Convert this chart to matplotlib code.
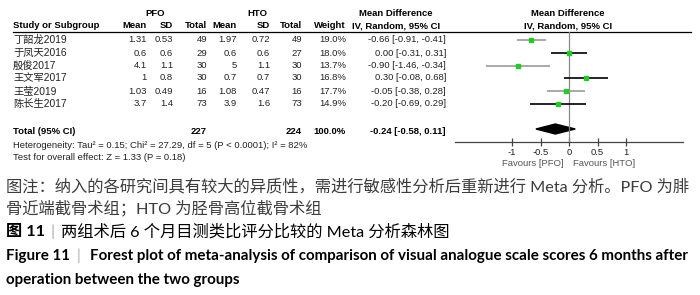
import matplotlib
matplotlib.use("Agg")
import matplotlib.pyplot as plt
from matplotlib.patches import Polygon

studies = ["丁韶龙2019", "于凤天2016", "殷俊2017", "王文军2017", "王莹2019", "陈长生2017"]
pfo_mean = ["1.31", "0.6", "4.1", "1", "1.03", "3.7"]
pfo_sd = ["0.53", "0.6", "1.1", "0.8", "0.49", "1.4"]
pfo_n = [49, 29, 30, 30, 16, 73]
hto_mean = ["1.97", "0.6", "5", "0.7", "1.08", "3.9"]
hto_sd = ["0.72", "0.6", "1.1", "0.7", "0.47", "1.6"]
hto_n = [49, 27, 30, 30, 16, 73]
weight = [19.0, 18.0, 13.7, 16.8, 17.7, 14.9]
md = [-0.66, 0.00, -0.90, 0.30, -0.05, -0.20]
lo = [-0.91, -0.31, -1.46, -0.08, -0.38, -0.69]
hi = [-0.41, 0.31, -0.34, 0.68, 0.28, 0.29]
total_pfo, total_hto = 227, 224
total_md, total_lo, total_hi = -0.24, -0.58, 0.11
ticks = [-1, -0.5, 0, 0.5, 1]
tick_labels = ["-1", "-0.5", "0", "0.5", "1"]

W, H = 700, 295
fig = plt.figure(figsize=(W / 100, H / 100), dpi=100)
ax = fig.add_axes([0, 0, 1, 1])
ax.set_xlim(0, W)
ax.set_ylim(H, 0)
ax.axis("off")
renderer = fig.canvas.get_renderer()

tf = ["Liberation Sans", "Noto Sans CJK SC"]
cf = ["Lato", "Noto Sans CJK SC", "DejaVu Sans"]
fs = 6.8
dark = "#222222"

def t(x, y, s, ha="left", bold=False, color=dark, size=fs, family=tf):
    return ax.text(x, y, s, ha=ha, va="center", fontsize=size, family=family,
                   fontweight="bold" if bold else "normal", color=color)

def fit(txt, width):
    # scale font so the text spans the given pixel width
    w = txt.get_window_extent(renderer).width
    txt.set_fontsize(txt.get_fontsize() * width / w)
    return txt.get_fontsize()

# header
t(155, 13, "PFO", "center", True, "black")
t(257, 13, "HTO", "center", True, "black")
t(396, 13, "Mean Difference", "center", True, "black")
t(568, 13, "Mean Difference", "center", True, "black")
hdr = [(13, "Study or Subgroup", "left"), (147, "Mean", "right"), (173, "SD", "right"),
       (207, "Total", "right"), (237, "Mean", "right"), (270, "SD", "right"),
       (302, "Total", "right"), (346, "Weight", "right"), (396, "IV, Random, 95% CI", "center"),
       (568, "IV, Random, 95% CI", "center")]
for x, s, ha in hdr:
    t(x, 26, s, ha, True, "black")
ax.plot([13, 691], [31.5, 31.5], color="black", lw=0.9)

row_y = [40, 53, 65.5, 78, 91, 104]
for i, y in enumerate(row_y):
    t(13, y, studies[i], size=7.4)
    t(147, y, pfo_mean[i], "right")
    t(173, y, pfo_sd[i], "right")
    t(207, y, str(pfo_n[i]), "right")
    t(237, y, hto_mean[i], "right")
    t(270, y, hto_sd[i], "right")
    t(302, y, str(hto_n[i]), "right")
    t(346, y, f"{weight[i]:.1f}%", "right")
    t(446, y, f"{md[i]:.2f} [{lo[i]:.2f}, {hi[i]:.2f}]", "right")

ty = 131
t(13, ty, "Total (95% CI)", bold=True, color="black")
t(207, ty, str(total_pfo), "right", True, "black")
t(302, ty, str(total_hto), "right", True, "black")
t(346, ty, "100.0%", "right", True, "black")
t(446, ty, f"{total_md:.2f} [{total_lo:.2f}, {total_hi:.2f}]", "right", True, "black")
t(13, 145, "Heterogeneity: Tau² = 0.15; Chi² = 27.29, df = 5 (P < 0.0001); I² = 82%")
t(13, 157, "Test for overall effect: Z = 1.33 (P = 0.18)")

# forest panel, y in pixel units
fx0, fx1, fy0, fy1 = 455, 683, 31.5, 142
fa = fig.add_axes([fx0 / W, 1 - fy1 / H, (fx1 - fx0) / W, (fy1 - fy0) / H])
fa.set_xlim(-2, 2)
fa.set_ylim(fy1, fy0)
fa.patch.set_alpha(0)
for s in ["top", "left", "right"]:
    fa.spines[s].set_visible(False)
fa.spines["bottom"].set_color("#444444")
fa.spines["bottom"].set_linewidth(0.9)
fa.set_yticks([])
fa.set_xticks(ticks)
fa.set_xticklabels(tick_labels, fontsize=fs, family=tf, color=dark)
fa.tick_params(axis="x", direction="inout", length=6, width=0.9, color="#444444", pad=1.5)
fa.axvline(0, color="#888888", lw=0.9)
for i, y in enumerate(row_y):
    c = "#9a9a9a" if i % 2 == 0 else "black"
    fa.plot([lo[i], hi[i]], [y, y], color=c, lw=1.2, solid_capstyle="butt")
    fa.plot(md[i], y, "s", color="#22cc22", ms=weight[i] * 0.18, mec="#22cc22")
fa.add_patch(Polygon([(total_lo, ty - 2), (total_md, ty - 7), (total_hi, ty - 2), (total_md, ty + 3)],
                     closed=True, color="black"))
t(564, 164, "Favours [PFO]", "right", color="#555555")
t(573, 164, "Favours [HTO]", "left", color="#555555")

# caption
grey = "#3c3c3c"
l1 = t(6, 187, "图注：纳入的各研究间具有较大的异质性，需进行敏感性分析后重新进行 Meta 分析。PFO 为腓",
       color=grey, size=11, family=cf)
cs = fit(l1, 684)
t(6, 208, "骨近端截骨术组；HTO 为胫骨高位截骨术组", color=grey, size=cs, family=cf)
t(6, 232, "图 11", bold=True, color="black", size=cs, family=cf)
t(53, 232, "|", "center", color="#aaaaaa", size=cs, family=cf)
t(61, 232, "两组术后 6 个月目测类比评分比较的 Meta 分析森林图", color="black", size=cs, family=cf)
l4 = t(90, 256, "Forest plot of meta-analysis of comparison of visual analogue scale scores 6 months after",
       bold=True, color="black", size=10, family=cf)
es = fit(l4, 600)
t(6, 256, "Figure 11", bold=True, color="black", size=es, family=cf)
t(79, 256, "|", "center", color="#aaaaaa", size=es, family=cf)
t(6, 280, "operation between the two groups", bold=True, color="black", size=es, family=cf)

fig.savefig("out.png", dpi=100)
